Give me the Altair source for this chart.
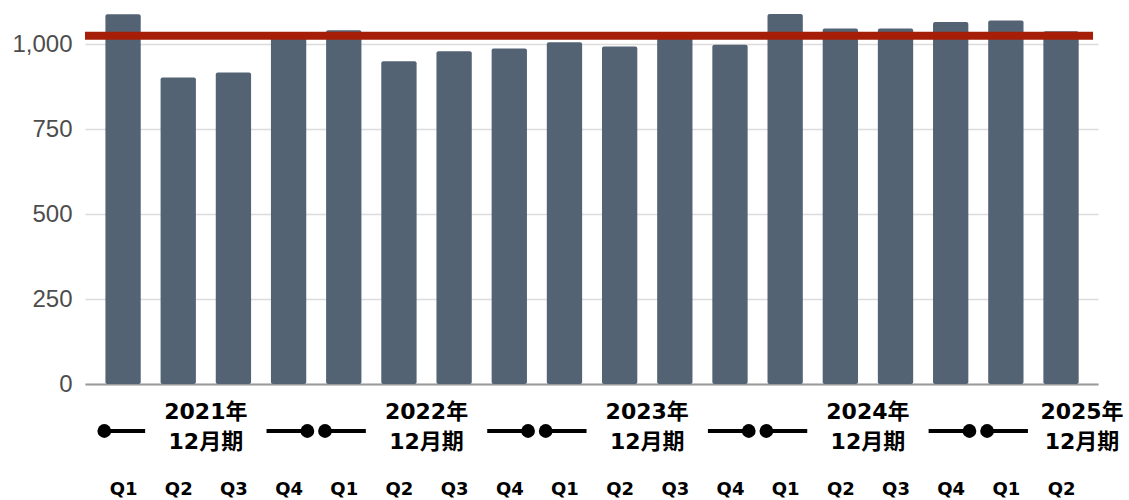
import altair as alt
import pandas as pd

# Quarterly values, fiscal years ending in December
quarters = ["Q1", "Q2", "Q3", "Q4"] * 4 + ["Q1", "Q2"]
fiscal_years = [2021] * 4 + [2022] * 4 + [2023] * 4 + [2024] * 4 + [2025] * 2
values = [1088, 902, 917, 1025, 1041, 950, 979, 987, 1006, 993, 1022, 998,
          1089, 1046, 1046, 1065, 1070, 1038]
reference_level = 1025

group_years = [2021, 2022, 2023, 2024, 2025]
group_labels = ["2021年\n12月期", "2022年\n12月期", "2023年\n12月期",
                "2024年\n12月期", "2025年\n12月期"]
y_ticks = [0, 250, 500, 750, 1000]

# layout (slot units on the x scale, pixels elsewhere)
X_MIN, X_MAX = -0.69, 17.67
HALF_BAR = 0.32
DOT_OUT = 0.34
SEG_LEN = 0.74
BRACKET_Y = 431
LABEL_Y = 412

n = len(values)
bars = pd.DataFrame({
    "idx": list(range(n)),
    "quarter": quarters,
    "year": fiscal_years,
    "value": values,
})
bars["lo"] = bars["idx"] - HALF_BAR
bars["hi"] = bars["idx"] + HALF_BAR
bars["base"] = 0

dots, segs, labels = [], [], []
for yr, lab in zip(group_years, group_labels):
    idxs = bars.loc[bars["year"] == yr, "idx"].tolist()
    first, last = idxs[0], idxs[-1]
    complete = len(idxs) == 4
    left = first - DOT_OUT
    dots.append({"x": left})
    segs.append({"x": left, "x2": left + SEG_LEN})
    if complete:
        right = last + DOT_OUT
        dots.append({"x": right})
        segs.append({"x": right - SEG_LEN, "x2": right})
    # keep the last label inside the frame
    labels.append({"x": min(first + 1.5, X_MAX - 0.29), "text": lab})

dots = pd.DataFrame(dots)
segs = pd.DataFrame(segs)
labels = pd.DataFrame(labels)
ref = pd.DataFrame({"value": [reference_level], "x": [X_MIN], "x2": [17.58]})

xscale = alt.Scale(domain=[X_MIN, X_MAX], nice=False, zero=False)
yscale = alt.Scale(domain=[0, 1130], nice=False)

label_expr = "[" + ",".join(f"'{q}'" for q in quarters) + "][datum.value]"

x_axis = alt.Axis(
    values=list(range(n)), labelExpr=label_expr, title=None, grid=False,
    ticks=False, tickSize=0, labelPadding=96, labelFont="DejaVu Sans",
    labelFontWeight="bold", labelFontSize=18, labelColor="#000000",
    domainColor="#9a9a9a", domainWidth=2, labelFlush=False, labelOverlap=False,
)
y_axis = alt.Axis(
    values=y_ticks, format=",d", title=None, domain=False, ticks=False,
    labelPadding=13, labelFont="Liberation Sans", labelFontSize=24,
    labelColor="#4d4d4d", gridColor="#dcdcdc", gridWidth=1.5,
)

bar_layer = alt.Chart(bars).mark_bar(color="#536374", cornerRadius=2).encode(
    x=alt.X("lo:Q", scale=xscale, axis=x_axis),
    x2="hi:Q",
    y=alt.Y("value:Q", scale=yscale, axis=y_axis),
    y2="base:Q",
)

ref_layer = alt.Chart(ref).mark_rule(color="#A61E08", strokeWidth=8).encode(
    x=alt.X("x:Q", scale=xscale),
    x2="x2:Q",
    y=alt.Y("value:Q", scale=yscale),
)

seg_layer = alt.Chart(segs).mark_rule(color="#000000", strokeWidth=4).encode(
    x=alt.X("x:Q", scale=xscale),
    x2="x2:Q",
    y=alt.value(BRACKET_Y),
)

dot_layer = alt.Chart(dots).mark_point(
    filled=True, shape="circle", size=190, color="#000000", opacity=1
).encode(
    x=alt.X("x:Q", scale=xscale),
    y=alt.value(BRACKET_Y),
)

label_layer = alt.Chart(labels).mark_text(
    font="DejaVu Sans, Noto Sans CJK JP", fontWeight="bold", fontSize=22,
    lineBreak="\n", lineHeight=30, baseline="middle", align="center",
    color="#000000",
).encode(
    x=alt.X("x:Q", scale=xscale),
    y=alt.value(LABEL_Y),
    text="text:N",
)

chart = alt.layer(
    bar_layer, ref_layer, seg_layer, dot_layer, label_layer
).properties(
    width=1013, height=384,
    autosize=alt.AutoSizeParams(type="none"),
    padding={"left": 85, "top": 0, "right": 31, "bottom": 116},
    background="#ffffff",
).configure_view(stroke=None)

chart.save("out.html", embed_options={"renderer": "svg", "actions": False})
